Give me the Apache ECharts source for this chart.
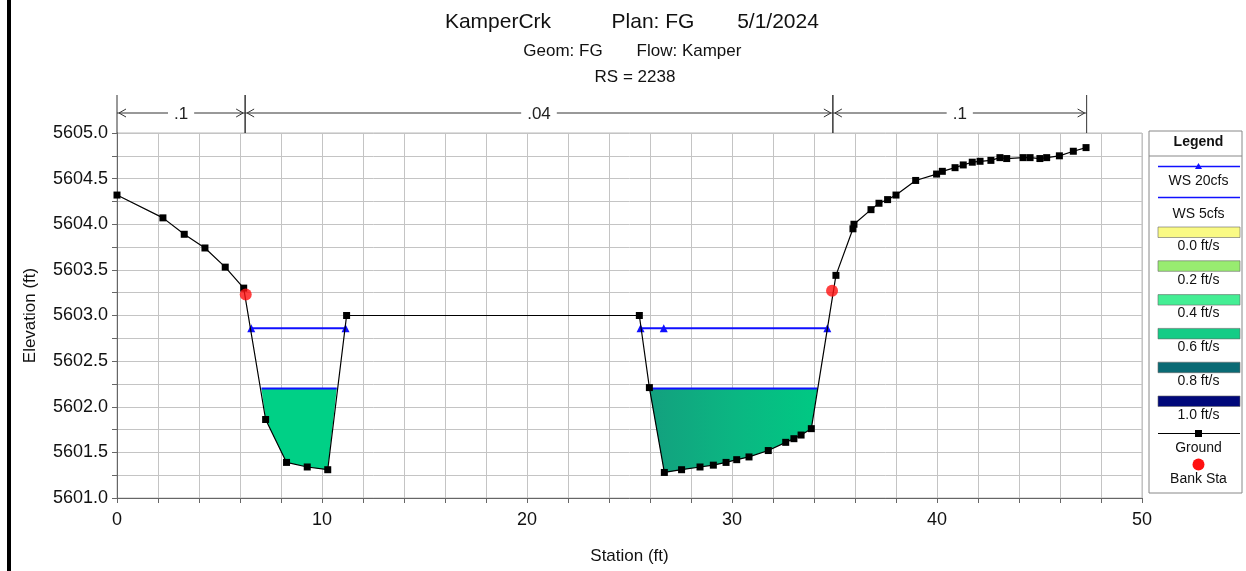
<!DOCTYPE html>
<html><head><meta charset="utf-8">
<script src="https://cdn.jsdelivr.net/npm/echarts@6/dist/echarts.min.js"></script>
<style>html,body{margin:0;padding:0;background:#fff}#c{width:1246px;height:571px}</style>
</head><body><div id="c"></div>
<script>
// ---- data ----
const ground = [[0,5604.32],[2.24,5604.07],[3.28,5603.89],[4.29,5603.74],[5.28,5603.53],[6.18,5603.30],
  [7.25,5601.86],[8.27,5601.39],[9.28,5601.34],[10.28,5601.31],[11.2,5603.0],[25.48,5603.0],[25.97,5602.21],
  [26.70,5601.28],[27.54,5601.31],[28.44,5601.34],[29.09,5601.36],[29.71,5601.39],[30.23,5601.42],[30.83,5601.45],
  [31.77,5601.52],[32.62,5601.61],[33.02,5601.65],[33.37,5601.69],[33.87,5601.76],[35.07,5603.44],[35.90,5603.95],
  [35.95,5604.0],[36.78,5604.16],[37.17,5604.23],[37.59,5604.27],[38.0,5604.32],[38.96,5604.48],[39.98,5604.55],
  [40.26,5604.58],[40.88,5604.62],[41.28,5604.65],[41.72,5604.68],[42.1,5604.69],[42.63,5604.70],[43.07,5604.73],
  [43.4,5604.72],[44.2,5604.73],[44.54,5604.73],[45.02,5604.72],[45.35,5604.73],[45.97,5604.75],[46.65,5604.80],[47.27,5604.84]];
const bankSta = [[6.28,5603.23],[34.88,5603.27]];
const ws20Level = 5602.86;
const ws20Segments = [[6.55,11.15],[25.54,34.65]];
const ws20Markers = [[6.55,11.15],[25.54,26.67,34.65]];
const ws5Level = 5602.20;
const ws5Segments = [[7.05,10.72],[25.97,34.17]];
const nBounds = [0,6.25,34.92,47.3];
const nValues = ['.1','.04','.1'];
const velLabels = ['0.0 ft/s','0.2 ft/s','0.4 ft/s','0.6 ft/s','0.8 ft/s','1.0 ft/s'];
const velColors = ['#fafa84','#98ec70','#44ee94','#14cc86','#0a6a74','#00087a'];
const xTicks = [0,10,20,30,40,50];

const FONT = '"Liberation Sans", Arial, sans-serif';
const chart = echarts.init(document.getElementById('c'));

const poolFills = [
  '#00d086',
  {type:'linear',x:0,y:0,x2:1,y2:0,colorStops:[{offset:0,color:'#13a07e'},{offset:0.5,color:'#0bb682'},{offset:1,color:'#00c983'}]}
];

const series = [];
// water fill polygons
series.push({
  type:'custom', z:1, silent:true,
  data: ws5Segments.map(s=>[s[0], s[1], ws5Level]),
  encode:{x:[0,1], y:2},
  renderItem:(params, api)=>{
    const i = params.dataIndex;
    const s = ws5Segments[i];
    const pts = [[s[0], ws5Level]];
    ground.forEach(g=>{ if(g[0]>s[0] && g[0]<s[1]) pts.push(g); });
    pts.push([s[1], ws5Level]);
    return {type:'polygon', shape:{points: pts.map(p=>api.coord(p))}, style:{fill: poolFills[i], stroke:null}};
  }
});
// WS 5cfs lines
ws5Segments.forEach(s=>series.push({type:'line', z:3, silent:true, symbol:'none',
  data:[[s[0],ws5Level],[s[1],ws5Level]], lineStyle:{color:'#1010ff', width:2}}));
// WS 20cfs lines
ws20Markers.forEach(m=>series.push({type:'line', z:3, silent:true, symbol:'triangle', symbolSize:8,
  itemStyle:{color:'#1010ff'}, data:m.map(x=>[x,ws20Level]), lineStyle:{color:'#1010ff', width:2}}));
// ground
series.push({type:'line', z:4, silent:true, data:ground, symbol:'rect', symbolSize:7,
  itemStyle:{color:'#000'}, lineStyle:{color:'#000', width:1.2}});
// bank stations
series.push({type:'scatter', z:5, silent:true, data:bankSta, symbol:'circle', symbolSize:12, itemStyle:{color:'#ff1010'}});
// Manning n dimension lines
series.push({
  type:'custom', z:6, silent:true, clip:false,
  data: nValues.map((v,i)=>[nBounds[i], nBounds[i+1], 5605]),
  encode:{x:[0,1], y:2},
  renderItem:(params, api)=>{
    const i = params.dataIndex;
    const x1 = api.coord([nBounds[i],5605])[0];
    const x2 = api.coord([nBounds[i+1],5605])[0];
    const yTop = params.coordSys.y;
    const yl = yTop - 20;
    const st = {stroke:'#333', lineWidth:1};
    return {type:'group', children:[
      {type:'line', shape:{x1:x1, y1:yTop-38, x2:x1, y2:yTop}, style:st},
      {type:'line', shape:{x1:x2, y1:yTop-38, x2:x2, y2:yTop}, style:st},
      {type:'line', shape:{x1:x1, y1:yl, x2:x2, y2:yl}, style:st},
      {type:'polyline', shape:{points:[[x1+9,yl-4],[x1+2,yl],[x1+9,yl+4]]}, style:{stroke:'#333', lineWidth:1, fill:null}},
      {type:'polyline', shape:{points:[[x2-9,yl-4],[x2-2,yl],[x2-9,yl+4]]}, style:{stroke:'#333', lineWidth:1, fill:null}},
      {type:'text', style:{text:nValues[i], x:(x1+x2)/2, y:yl+1, align:'center', verticalAlign:'middle',
        font:'17px '+FONT, fill:'#222', backgroundColor:'#fff', padding:[0,6]}}
    ]};
  }
});

// legend graphics
const LX = 1149, LW = 93, LC = LX + LW/2 + 3;
const lg = [];
lg.push({type:'rect', shape:{x:LX, y:131, width:LW, height:362}, style:{fill:'#fff', stroke:'#888', lineWidth:1}});
lg.push({type:'text', style:{text:'Legend', x:LC, y:142, align:'center', verticalAlign:'middle', font:'bold 14px '+FONT, fill:'#111'}});
lg.push({type:'line', shape:{x1:LX, y1:156, x2:LX+LW, y2:156}, style:{stroke:'#888', lineWidth:1}});
lg.push({type:'line', shape:{x1:1158, y1:166.5, x2:1240, y2:166.5}, style:{stroke:'#1010ff', lineWidth:1.5}});
lg.push({type:'polygon', shape:{points:[[LC-3.5,169],[LC+3.5,169],[LC,163]]}, style:{fill:'#1010ff'}});
lg.push({type:'text', style:{text:'WS 20cfs', x:LC, y:181.5, align:'center', verticalAlign:'middle', font:'14px '+FONT, fill:'#111'}});
lg.push({type:'line', shape:{x1:1158, y1:197.5, x2:1240, y2:197.5}, style:{stroke:'#1010ff', lineWidth:1.5}});
lg.push({type:'text', style:{text:'WS 5cfs', x:LC, y:214, align:'center', verticalAlign:'middle', font:'14px '+FONT, fill:'#111'}});
velLabels.forEach((t,i)=>{
  const ry = 227 + i*33.8;
  lg.push({type:'rect', shape:{x:1158, y:ry, width:82, height:10.5}, style:{fill:velColors[i], stroke:'#666', lineWidth:0.6}});
  lg.push({type:'text', style:{text:t, x:LC, y:ry+19, align:'center', verticalAlign:'middle', font:'14px '+FONT, fill:'#111'}});
});
lg.push({type:'line', shape:{x1:1158, y1:433.5, x2:1240, y2:433.5}, style:{stroke:'#000', lineWidth:1.2}});
lg.push({type:'rect', shape:{x:LC-3.5, y:430, width:7, height:7}, style:{fill:'#000'}});
lg.push({type:'text', style:{text:'Ground', x:LC, y:448, align:'center', verticalAlign:'middle', font:'14px '+FONT, fill:'#111'}});
lg.push({type:'circle', shape:{cx:LC, cy:464.5, r:6}, style:{fill:'#ff1010'}});
lg.push({type:'text', style:{text:'Bank Sta', x:LC, y:479.5, align:'center', verticalAlign:'middle', font:'14px '+FONT, fill:'#111'}});

const titles = [
  {type:'text', style:{text:'KamperCrk', x:498, y:22, align:'center', verticalAlign:'middle', font:'21px '+FONT, fill:'#111'}},
  {type:'text', style:{text:'Plan: FG', x:653, y:22, align:'center', verticalAlign:'middle', font:'21px '+FONT, fill:'#111'}},
  {type:'text', style:{text:'5/1/2024', x:778, y:22, align:'center', verticalAlign:'middle', font:'21px '+FONT, fill:'#111'}},
  {type:'text', style:{text:'Geom: FG', x:563, y:51, align:'center', verticalAlign:'middle', font:'17px '+FONT, fill:'#111'}},
  {type:'text', style:{text:'Flow: Kamper', x:689, y:51, align:'center', verticalAlign:'middle', font:'17px '+FONT, fill:'#111'}},
  {type:'text', style:{text:'RS = 2238', x:635, y:77, align:'center', verticalAlign:'middle', font:'17px '+FONT, fill:'#111'}},
  {type:'rect', shape:{x:7, y:0, width:4, height:571}, style:{fill:'#000'}}
];

chart.setOption({
  animation:false,
  backgroundColor:'#fff',
  grid:{left:117, top:133, width:1025, height:365, show:true, borderColor:'#bbb', borderWidth:1},
  xAxis:{type:'value', min:0, max:50, interval:2,
    name:'Station (ft)', nameLocation:'middle', nameGap:50,
    nameTextStyle:{fontFamily:FONT, fontSize:17, color:'#111'},
    axisLine:{lineStyle:{color:'#666'}},
    axisTick:{show:true, length:5, inside:false, lineStyle:{color:'#666'}},
    axisLabel:{fontFamily:FONT, fontSize:18, color:'#111', margin:13,
      formatter:v=> xTicks.indexOf(v)>=0 ? String(v) : ''},
    splitLine:{show:true, lineStyle:{color:'#c4c4c4', width:1}}},
  yAxis:{type:'value', min:5601, max:5605, interval:0.25,
    name:'Elevation (ft)', nameLocation:'middle', nameGap:78, nameRotate:90,
    nameTextStyle:{fontFamily:FONT, fontSize:17, color:'#111'},
    axisLine:{show:true, lineStyle:{color:'#666'}},
    axisTick:{show:true, length:5, lineStyle:{color:'#666'}},
    axisLabel:{fontFamily:FONT, fontSize:18, color:'#111', margin:9,
      formatter:v=> (Math.abs(v*2-Math.round(v*2))<1e-6) ? v.toFixed(1) : ''},
    splitLine:{show:true, lineStyle:{color:'#c4c4c4', width:1}}},
  graphic: titles.concat(lg),
  series: series
});
</script></body></html>
